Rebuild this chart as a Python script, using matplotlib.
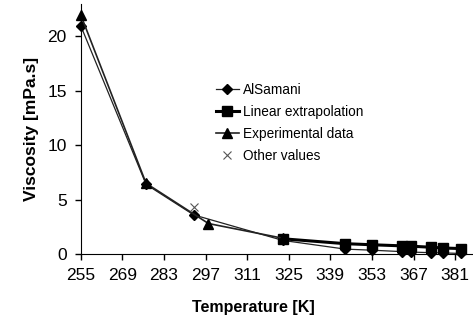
import matplotlib
matplotlib.use('Agg')
import matplotlib.pyplot as plt

plt.rcParams['font.family'] = ['Liberation Sans', 'DejaVu Sans']

# AlSamani
t_als = [255, 277, 293, 323, 344, 353, 363, 366, 373, 377, 383]
v_als = [21.0, 6.4, 3.6, 1.25, 0.45, 0.35, 0.22, 0.18, 0.12, 0.1, 0.05]
# Linear extrapolation
t_lin = [323, 344, 353, 363, 366, 373, 377, 383]
v_lin = [1.4, 0.95, 0.85, 0.75, 0.72, 0.62, 0.55, 0.5]
# Experimental data
t_exp = [255, 277, 298, 323]
v_exp = [22.0, 6.5, 2.8, 1.45]
# Other values
t_oth = [293]
v_oth = [4.3]

xticks = [255, 269, 283, 297, 311, 325, 339, 353, 367, 381]
yticks = [0, 5, 10, 15, 20]

fig = plt.figure(figsize=(4.73, 3.30), dpi=100)
ax = fig.add_axes([0.1706, 0.2303, 0.8294, 0.758])

ax.plot(t_als, v_als, color='#222222', lw=0.9, marker='D', ms=5, mfc='black', mec='black', label='AlSamani', clip_on=False)
ax.plot(t_lin, v_lin, color='black', lw=2.2, marker='s', ms=7, mfc='black', mec='black', label='Linear extrapolation', clip_on=False)
ax.plot(t_exp, v_exp, color='#222222', lw=1.2, marker='^', ms=7.5, mfc='black', mec='black', label='Experimental data', clip_on=False)
ax.plot(t_oth, v_oth, ls='none', marker='x', ms=6, mew=0.8, color='#555555', label='Other values', clip_on=False)

ax.set_xlim(255, 387)
ax.set_ylim(0, 23)
ax.set_xticks(xticks)
ax.set_yticks(yticks)
ax.tick_params(labelsize=12.5, length=4, width=1, direction='out', pad=6)
ax.spines['top'].set_visible(False)
ax.spines['right'].set_visible(False)

ax.set_xlabel('Temperature [K]', fontsize=11.5, fontweight='bold')
ax.xaxis.set_label_coords(0.44, -0.185)
ax.set_ylabel('Viscosity [mPa.s]', fontsize=12.5, fontweight='bold', labelpad=6)

ax.legend(loc='upper left', bbox_to_anchor=(0.43, 0.787), bbox_transform=fig.transFigure,
          frameon=False, fontsize=9.8, handlelength=1.7, handletextpad=0.3, labelspacing=0.6)

fig.savefig('out.png', dpi=100)
